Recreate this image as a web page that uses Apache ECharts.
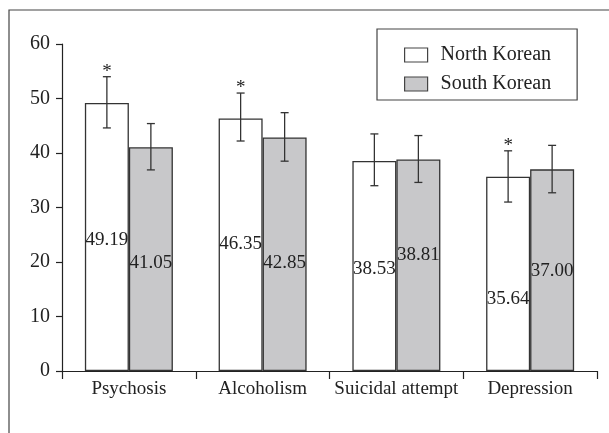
<!DOCTYPE html>
<html><head><meta charset="utf-8">
<script src="https://cdn.jsdelivr.net/npm/echarts@6/dist/echarts.min.js"></script>
<style>html,body{margin:0;padding:0;background:#fff}#c{width:609px;height:433px}</style>
</head><body><div id="c"></div>
<script>
var categories = ['Psychosis', 'Alcoholism', 'Suicidal attempt', 'Depression'];
var seriesNames = ['North Korean', 'South Korean'];
var northValues = [49.19, 46.35, 38.53, 35.64];
var southValues = [41.05, 42.85, 38.81, 37.00];
var northLow = [44.6, 42.2, 34.0, 31.0];
var northHigh = [54.0, 51.0, 43.5, 40.4];
var southLow = [36.9, 38.5, 34.6, 32.7];
var southHigh = [45.4, 47.4, 43.2, 41.4];
var northSignificant = [true, true, false, true];
var yTicks = [0, 10, 20, 30, 40, 50, 60];

// label placement (pixels above axis), styling only
var northLabelLift = [121, 117, 92, 62];
var southLabelLift = [98, 98, 106, 90];

var FONT = 'Liberation Serif';
var BAR_W = 44;
var chart = echarts.init(document.getElementById('c'), null, {renderer: 'canvas'});

function barData(vals, lifts) {
  return vals.map(function (v, i) {
    return { value: v, label: { offset: [0, -lifts[i]] } };
  });
}

var errData = [];
for (var i = 0; i < categories.length; i++) {
  errData.push([i, 0, northLow[i], northHigh[i], northSignificant[i] ? 1 : 0]);
  errData.push([i, 1, southLow[i], southHigh[i], 0]);
}

var option = {
  animation: false,
  backgroundColor: '#fff',
  grid: { left: 62, right: 12, top: 44, bottom: 62, containLabel: false },
  legend: {
    orient: 'vertical',
    left: 377, top: 29,
    data: seriesNames,
    icon: 'rect',
    itemWidth: 23, itemHeight: 14, itemGap: 9,
    padding: [16, 26, 6, 27],
    borderColor: '#444', borderWidth: 1.2,
    textStyle: { fontFamily: FONT, fontSize: 20, color: '#222', lineHeight: 16, padding: [0, 0, 0, 8] },
    itemStyle: { borderColor: '#444', borderWidth: 1.2 }
  },
  xAxis: {
    type: 'category',
    data: categories,
    axisLine: { lineStyle: { color: '#222', width: 1.2 } },
    axisTick: { show: true, alignWithLabel: false, length: 8, lineStyle: { color: '#222', width: 1.2 } },
    axisLabel: { interval: 0, fontFamily: FONT, fontSize: 19, color: '#222', margin: 9 }
  },
  yAxis: {
    type: 'value', min: 0, max: 60, interval: 10,
    axisLine: { show: true, lineStyle: { color: '#222', width: 1.2 } },
    axisTick: { show: true, length: 6, lineStyle: { color: '#222', width: 1.2 } },
    splitLine: { show: false },
    axisLabel: { fontFamily: FONT, fontSize: 20, color: '#222', margin: 12,
      formatter: function (v) { return yTicks.indexOf(v) >= 0 ? String(v) : ''; } }
  },
  series: [
    {
      name: seriesNames[0], type: 'bar', barWidth: BAR_W, barGap: '0%',
      itemStyle: { color: '#ffffff', borderColor: '#333', borderWidth: 1.3 },
      label: { show: true, position: 'insideBottom', distance: 0, fontFamily: FONT, fontSize: 19, color: '#222',
        formatter: function (p) { return p.value.toFixed(2); } },
      data: barData(northValues, northLabelLift)
    },
    {
      name: seriesNames[1], type: 'bar', barWidth: BAR_W, barGap: '0%',
      itemStyle: { color: '#c8c8ca', borderColor: '#333', borderWidth: 1.3 },
      label: { show: true, position: 'insideBottom', distance: 0, fontFamily: FONT, fontSize: 19, color: '#222',
        formatter: function (p) { return p.value.toFixed(2); } },
      data: barData(southValues, southLabelLift)
    },
    {
      type: 'custom', name: 'err', silent: true, z: 10,
      data: errData,
      encode: { x: 0, y: [2, 3] },
      renderItem: function (params, api) {
        var cat = api.value(0), s = api.value(1);
        var lo = api.coord([cat, api.value(2)]);
        var hi = api.coord([cat, api.value(3)]);
        var x = lo[0] + (s === 0 ? -BAR_W / 2 : BAR_W / 2);
        var st = { stroke: '#333', lineWidth: 1.3 };
        var cw = 4;
        var children = [
          { type: 'line', shape: { x1: x, y1: lo[1], x2: x, y2: hi[1] }, style: st },
          { type: 'line', shape: { x1: x - cw, y1: lo[1], x2: x + cw, y2: lo[1] }, style: st },
          { type: 'line', shape: { x1: x - cw, y1: hi[1], x2: x + cw, y2: hi[1] }, style: st }
        ];
        if (api.value(4) === 1) {
          children.push({ type: 'text', style: { text: '*', x: x, y: hi[1] - 5, fontFamily: FONT, fontSize: 19,
            fill: '#222', align: 'center', verticalAlign: 'middle' } });
        }
        return { type: 'group', children: children };
      }
    }
  ],
  graphic: [
    { type: 'rect', shape: { x: 9, y: 10, width: 640, height: 460 },
      style: { fill: 'none', stroke: '#444', lineWidth: 1.2 }, silent: true }
  ]
};
chart.setOption(option);
</script></body></html>
